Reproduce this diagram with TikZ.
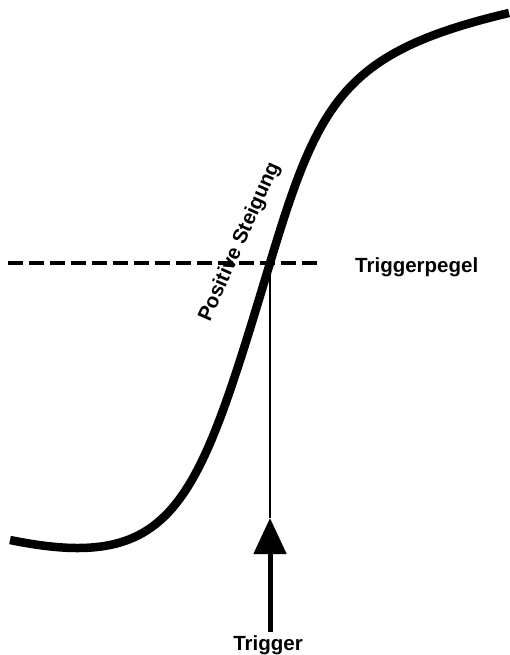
\documentclass[tikz,border=0pt]{standalone}
\usepackage{fontspec}
\setmainfont{Liberation Sans}
\usetikzlibrary{arrows.meta}
\tikzset{
    curvestyle/.style={line width=8.5pt, line cap=butt},
    labeltext/.style={font=\bfseries\fontsize{20.5}{24}\selectfont, inner sep=0pt}
}
\begin{document}
\begin{tikzpicture}[x=1pt, y=-1pt]
    \useasboundingbox (0,0) rectangle (509,655);

    % Signal
    \draw[curvestyle] (10,540) .. controls (177,574) and (197.5,503) .. (270,263)
        .. controls (319,100) and (344,52) .. (509,13);

    % Trigger level
    \coordinate (levelstart) at (8,263);
    \coordinate (levelend) at (318,263);
    \draw[line width=4pt, dash pattern=on 15pt off 6pt] (levelstart) -- (levelend);
    \node[labeltext, anchor=west] (pegel) at (355,267) {Triggerpegel};

    % Slope label
    \node[labeltext, rotate=66] (slope) at (240,242) {Positive Steigung};

    % Trigger point
    \coordinate (cross) at (270,264);
    \coordinate (tip) at (270,518);
    \draw[line width=1.5pt] (cross) -- (tip);
    \node[labeltext, anchor=base] (trig) at (268,650) {Trigger};
    \draw[line width=5pt, -{Triangle[width=32pt, length=36pt]}] (270,632) -- (tip);
\end{tikzpicture}
\end{document}
